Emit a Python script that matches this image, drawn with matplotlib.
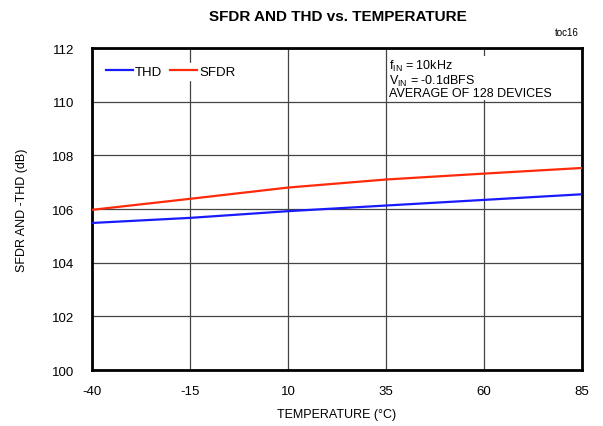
import matplotlib
matplotlib.use("Agg")
import matplotlib.pyplot as plt

plt.rcParams["font.family"] = ["Liberation Sans", "DejaVu Sans"]
plt.rcParams["mathtext.fontset"] = "custom"
plt.rcParams["mathtext.rm"] = "Liberation Sans"
plt.rcParams["axes.unicode_minus"] = False

temp = [-40, -15, 10, 35, 60, 85]
thd = [105.48, 105.67, 105.92, 106.13, 106.34, 106.55]
sfdr = [105.97, 106.38, 106.80, 107.10, 107.32, 107.53]

fig = plt.figure(figsize=(6.03, 4.27), dpi=100)
ax = fig.add_axes([0.1526, 0.1311, 0.8126, 0.7541])

ax.plot(temp, thd, color="#1a1aff", lw=1.6, label="THD", zorder=3)
ax.plot(temp, sfdr, color="#ff2a0a", lw=1.6, label="SFDR", zorder=3)

ax.set_xlim(-40, 85)
ax.set_ylim(100, 112)
ax.set_xticks(temp)
ax.set_yticks(range(100, 113, 2))
ax.tick_params(length=0, labelsize=9.5)
ax.tick_params(axis="y", pad=13)
ax.tick_params(axis="x", pad=11)
ax.grid(color="#444444", lw=0.9)
for s in ax.spines.values():
    s.set_linewidth(2)

ax.set_xlabel("TEMPERATURE (°C)", fontsize=9, labelpad=8)
ax.set_ylabel("SFDR AND -THD (dB)", fontsize=9, labelpad=17)
fig.text(0.56, 0.96, "SFDR AND THD vs. TEMPERATURE", ha="center", va="center",
         fontsize=11, fontweight="bold")
fig.text(0.94, 0.922, "toc16", ha="center", va="center", fontsize=7)

leg = ax.legend(loc="upper left", bbox_to_anchor=(0.01, 0.975), ncol=2, frameon=True,
                fontsize=9.5, handlelength=2.0, handletextpad=0.2, columnspacing=0.6,
                borderpad=0.2, fancybox=False, edgecolor="white", framealpha=1)
leg.set_zorder(5)

ax.text(0.607, 0.968, "f$_{\\mathregular{IN}}$ = 10kHz\nV$_{\\mathregular{IN}}$ = -0.1dBFS\nAVERAGE OF 128 DEVICES",
        transform=ax.transAxes, ha="left", va="top", fontsize=9, linespacing=0.92,
        bbox=dict(facecolor="white", edgecolor="none", pad=0.5), zorder=5)

plt.savefig("out.png", dpi=100)
